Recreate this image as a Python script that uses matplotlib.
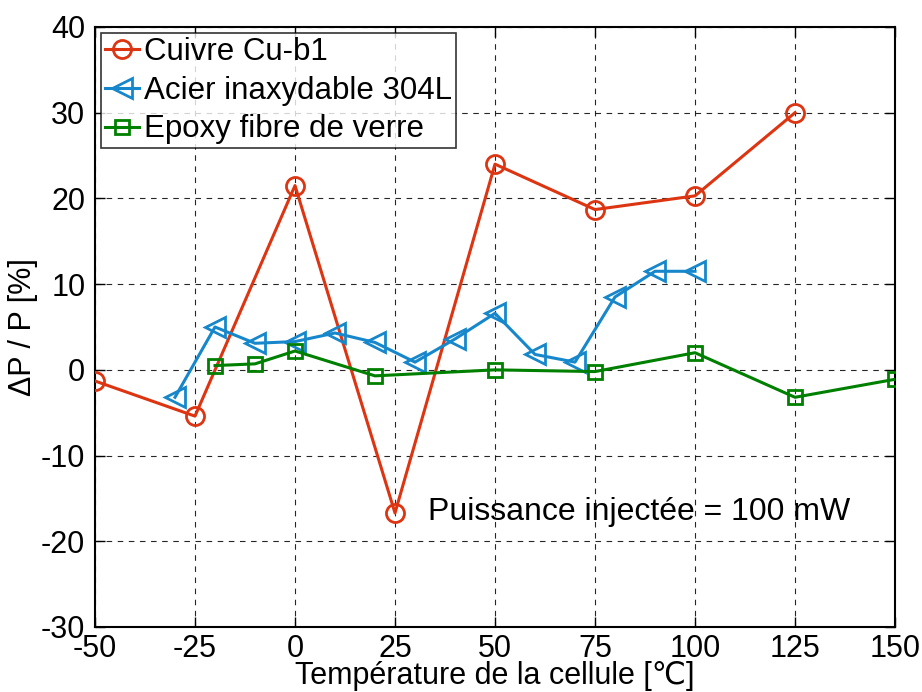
import matplotlib
matplotlib.use("Agg")
import matplotlib.pyplot as plt

plt.rcParams['font.family'] = ['Liberation Sans', 'DejaVu Sans']

cu_x = [-50, -25, 0, 25, 50, 75, 100, 125]
cu_y = [-1.3, -5.4, 21.5, -16.7, 24.0, 18.7, 20.3, 30.0]

ac_x = [-30, -20, -10, 0, 10, 20, 30, 40, 50, 60, 70, 80, 90, 100]
ac_y = [-3.2, 5.0, 3.1, 3.3, 4.3, 3.2, 0.9, 3.6, 6.6, 1.8, 0.9, 8.5, 11.5, 11.5]

ep_x = [-20, -10, 0, 20, 50, 75, 100, 125, 150]
ep_y = [0.5, 0.7, 2.2, -0.7, 0.0, -0.2, 2.0, -3.2, -1.1]

labels = ['Cuivre Cu-b1', 'Acier inaxydable 304L', 'Epoxy fibre de verre']
xticks = [-50, -25, 0, 25, 50, 75, 100, 125, 150]
yticks = [-30, -20, -10, 0, 10, 20, 30, 40]

red = '#DD3512'
blue = '#1787CC'
green = '#008000'

fig = plt.figure(figsize=(9.22, 6.92), dpi=100)
ax = fig.add_axes([95/922, 1-627/692, 800/922, 600/692])

ax.plot(cu_x, cu_y, color=red, lw=2.2, marker='o', ms=13, mfc='none', mew=2, label=labels[0], zorder=3)
ax.plot(ac_x, ac_y, color=blue, lw=2.2, marker='<', ms=14, mfc='none', mew=2, label=labels[1], zorder=3)
ax.plot(ep_x, ep_y, color=green, lw=2.2, marker='s', ms=10, mfc='none', mew=2, label=labels[2], zorder=3)

ax.set_xlim(-50, 150)
ax.set_ylim(-30, 40)
ax.set_xticks(xticks)
ax.set_yticks(yticks)
ax.set_xticklabels([str(v) for v in xticks], fontsize=22)
ax.set_yticklabels([str(v) for v in yticks], fontsize=22)
ax.tick_params(direction='in', length=7, width=1, top=True, right=True)
ax.tick_params(axis='x', pad=5)
ax.tick_params(axis='y', pad=7)
ax.grid(True, color='black', linestyle=(0, (5, 5)), lw=0.8, alpha=0.85)
for s in ax.spines.values():
    s.set_linewidth(1.5)

ax.set_xlabel('Température de la cellule [℃]', fontsize=22, labelpad=-2)
ax.set_ylabel('ΔP / P [%]', fontsize=22, labelpad=2)

ax.text(33.3, -16.6, 'Puissance injectée = 100 mW', fontsize=23, va='center', ha='left')

leg = ax.legend(loc='upper left', fontsize=22.5, frameon=True, fancybox=False,
                edgecolor='black', handlelength=1.1, handletextpad=0.15,
                borderpad=0.12, labelspacing=0.28, borderaxespad=0.2)
leg.get_frame().set_linewidth(1.2)

fig.savefig('out.png', dpi=100)
